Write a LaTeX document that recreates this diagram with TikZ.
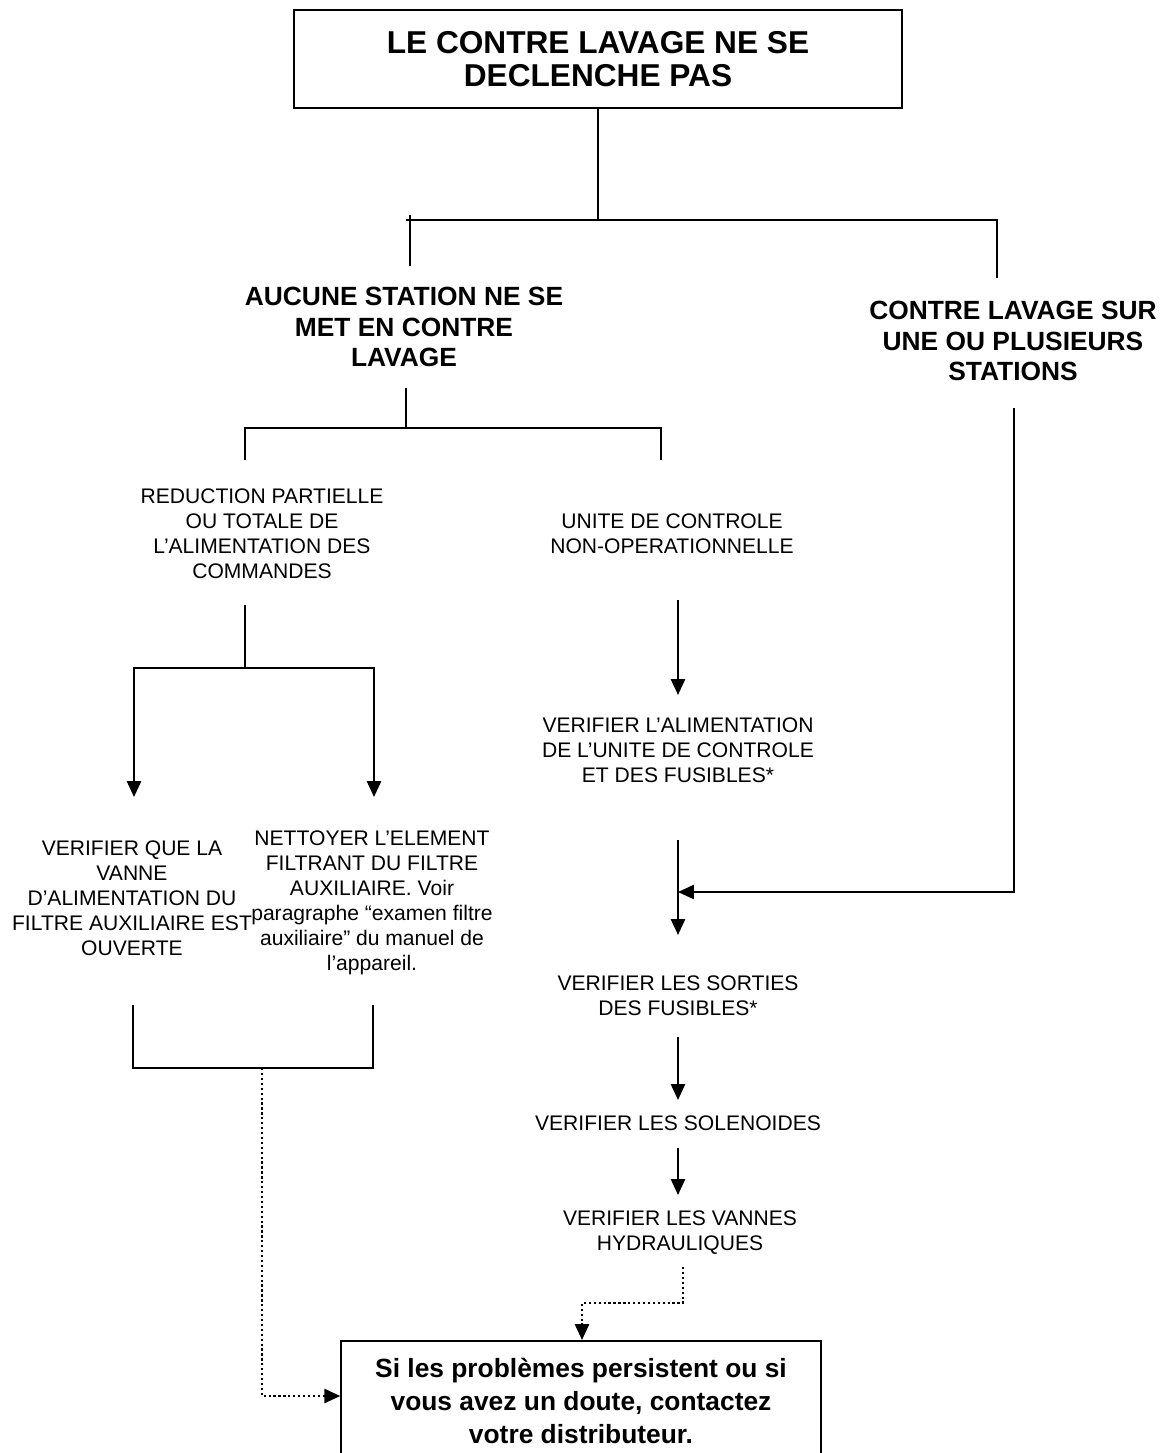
\documentclass[tikz,border=0pt]{standalone}
\usepackage{fontspec}
\setmainfont{Liberation Sans}
\usetikzlibrary{arrows.meta,positioning}

\tikzset{
  trait/.style={line width=.9pt},
  fleche/.style={line width=1.2pt,-{Triangle[length=9pt,width=8pt]}},
  pointille/.style={line width=1.3pt,dash pattern=on 1.3pt off 1.5pt,-{Triangle[length=9pt,width=8pt]}},
  corps/.style={inner sep=0pt,align=center,font=\fontsize{12}{14.2}\selectfont},
  entete/.style={inner sep=0pt,align=center,font=\bfseries\fontsize{15}{17.6}\selectfont},
}

\begin{document}
\begin{tikzpicture}[x=.02cm,y=-.02cm]
\useasboundingbox (0,0) rectangle (1162,1453);
\clip (0,0) rectangle (1162,1453);
% Cadre du titre
\node[draw,line width=.9pt,minimum width=12.16cm,minimum height=1.96cm,inner sep=0pt,align=center,
      font=\bfseries\fontsize{18}{18.5}\selectfont] (titre) at (598,59) {LE CONTRE LAVAGE NE SE\\DECLENCHE PAS};
% Les deux cas principaux
\node[entete] (aucune) at (404,327) {AUCUNE STATION NE SE\\MET EN CONTRE\\LAVAGE};
\node[entete] (plusieurs) at (1013,341) {CONTRE LAVAGE SUR\\UNE OU PLUSIEURS\\STATIONS};
% Causes et verifications
\node[corps] (reduction) at (262,534) {REDUCTION PARTIELLE\\OU TOTALE DE\\L’ALIMENTATION DES\\COMMANDES};
\node[corps] (unite) at (672,534) {UNITE DE CONTROLE\\NON-OPERATIONNELLE};
\node[corps] (verifalim) at (678,750) {VERIFIER L’ALIMENTATION\\DE L’UNITE DE CONTROLE\\ET DES FUSIBLES*};
\node[corps] (vanne) at (132,898) {VERIFIER QUE LA\\VANNE\\D’ALIMENTATION DU\\FILTRE AUXILIAIRE EST\\OUVERTE};
\node[corps] (nettoyer) at (372,903) {NETTOYER L’ELEMENT\\FILTRANT DU FILTRE\\AUXILIAIRE. Voir\\paragraphe “examen filtre\\auxiliaire” du manuel de\\l’appareil.};
\node[corps] (sorties) at (678,996) {VERIFIER LES SORTIES\\DES FUSIBLES*};
\node[corps] (solenoides) at (678,1123) {VERIFIER LES SOLENOIDES};
\node[corps] (vannes) at (680,1233) {VERIFIER LES VANNES\\HYDRAULIQUES};
% Cadre final, ouvert vers le bas de la page
\node[draw,line width=.9pt,anchor=north,inner sep=0pt] (contact) at (581,1340)
  {\parbox[c][2.7cm][t]{9.6cm}{\vspace*{10pt}\centering\bfseries\fontsize{15}{18.8}\selectfont
   Si les problèmes persistent ou si\\vous avez un doute, contactez\\votre distributeur.}};

% Tronc sous le titre
\coordinate (t1) at (598,220);
\coordinate (g0) at (410,215);
\coordinate (g1) at (410,266);
\coordinate (h0) at (406,220);
\coordinate (d1) at (997,278);
\draw[trait] (titre.south) -- (t1);
\draw[trait] (g0) -- (g1);
\draw[trait] (h0) -- (h0 -| d1) -- (d1);
% Branche AUCUNE STATION
\coordinate (a0) at (406,388);
\coordinate (a1) at (406,428);
\coordinate (r0) at (245,460);
\coordinate (u0) at (661,460);
\draw[trait] (a0) -- (a1);
\draw[trait] (r0) -- (r0 |- a1) -- (u0 |- a1) -- (u0);
\coordinate (r1) at (245,605);
\coordinate (r2) at (245,668);
\coordinate (v0) at (134,797);
\coordinate (n0) at (374,797);
\draw[trait] (r1) -- (r2);
\draw[fleche] (r2) -| (v0);
\draw[fleche] (r2) -| (n0);
\coordinate (u1) at (678,600);
\coordinate (u2) at (678,695);
\draw[fleche] (u1) -- (u2);
% Crochet sous les deux verifications de gauche
\coordinate (b0) at (133,1005);
\coordinate (b1) at (373,1005);
\coordinate (b2) at (262,1068);
\coordinate (p0) at (0,1396);
\draw[trait] (b0) |- (b2) -| (b1);
\draw[pointille] (b2) |- (contact.west |- p0);
% Branche PLUSIEURS STATIONS et suite des verifications
\coordinate (s0) at (1014,408);
\coordinate (s1) at (1014,892);
\coordinate (f0) at (678,840);
\coordinate (f1) at (678,935);
\draw[fleche] (f0) -- (f1);
\draw[fleche] (s0) -- (s1) -- (f0 |- s1);
\coordinate (o0) at (678,1037);
\coordinate (o1) at (678,1100);
\draw[fleche] (o0) -- (o1);
\coordinate (l0) at (678,1148);
\coordinate (l1) at (678,1195);
\draw[fleche] (l0) -- (l1);
% Renvoi pointille vers le cadre final
\coordinate (q0) at (683,1267);
\coordinate (q1) at (582,1303);
\draw[pointille] (q0) |- (q1) -- (q1 |- contact.north);
\end{tikzpicture}
\end{document}
